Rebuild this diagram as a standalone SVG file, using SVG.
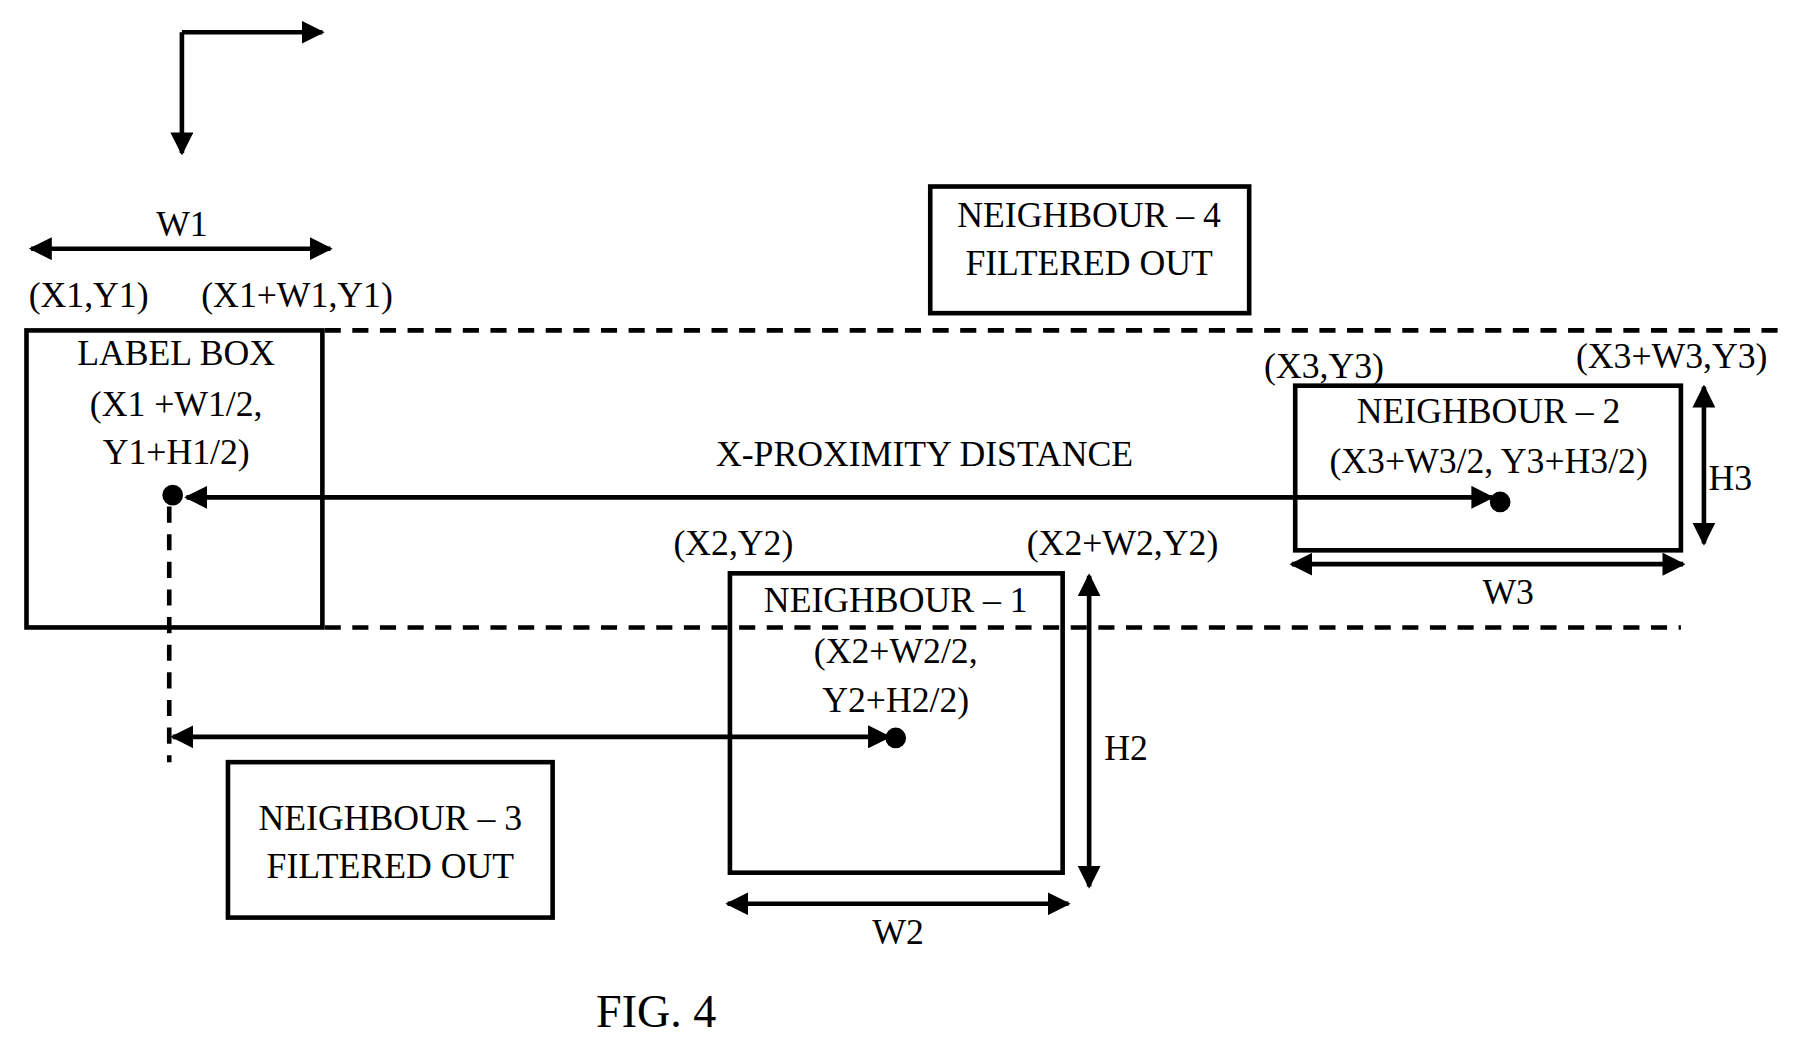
<svg xmlns="http://www.w3.org/2000/svg" width="1796" height="1046" viewBox="0 0 1796 1046">
<style>
text{font-family:"Liberation Serif","Times New Roman",serif;font-size:31px;fill:#000;text-anchor:middle}
.b{fill:none;stroke:#000;stroke-width:4}
.l{stroke:#000;stroke-width:4;fill:none}
.d{stroke:#000;stroke-width:4;stroke-dasharray:14,10;fill:none}
</style>
<defs>
<marker id="a" viewBox="0 0 10 10" refX="9" refY="5" markerWidth="5" markerHeight="5" orient="auto-start-reverse"><path d="M0,0 L10,5 L0,10 z" fill="#000"/></marker>
</defs>
<rect width="1796" height="1046" fill="#fff"/>
<g transform="scale(1.1513)">
<g id="connectors">
<path class="l" d="M158,28 V133" marker-end="url(#a)"/>
<path class="l" d="M158,28 H280" marker-end="url(#a)"/>
<path class="l" d="M27,216 H287" marker-start="url(#a)" marker-end="url(#a)"/>
<path class="d" d="M282,287 H1550"/>
<path class="d" d="M282,545 H1460"/>
<path class="d" d="M147,440 V662"/>
<path class="l" d="M162,432 H1296" marker-start="url(#a)" marker-end="url(#a)"/>
<path class="l" d="M150,640 H772" marker-start="url(#a)" marker-end="url(#a)"/>
<path class="l" d="M1480,336 V472" marker-start="url(#a)" marker-end="url(#a)"/>
<path class="l" d="M1122,490 H1462" marker-start="url(#a)" marker-end="url(#a)"/>
<path class="l" d="M946,500 V770" marker-start="url(#a)" marker-end="url(#a)"/>
<path class="l" d="M632,785 H928" marker-start="url(#a)" marker-end="url(#a)"/>
<circle cx="150" cy="430" r="9"/>
<circle cx="1303" cy="436" r="9"/>
<circle cx="778" cy="641" r="9"/>
</g>
<g id="label-box">
<rect class="b" x="23" y="287" width="257" height="258"/>
<text x="153" y="317">LABEL BOX</text>
<text x="153" y="361">(X1 +W1/2,</text>
<text x="153" y="403">Y1+H1/2)</text>
</g>
<g id="labels">
<text x="158" y="205">W1</text>
<text x="77" y="267">(X1,Y1)</text>
<text x="258" y="267">(X1+W1,Y1)</text>
<text x="803" y="405">X-PROXIMITY  DISTANCE</text>
<text x="1150" y="328">(X3,Y3)</text>
<text x="1452" y="320">(X3+W3,Y3)</text>
<text x="1503" y="426">H3</text>
<text x="1310" y="525">W3</text>
<text x="637" y="482">(X2,Y2)</text>
<text x="975" y="482">(X2+W2,Y2)</text>
<text x="978" y="660">H2</text>
<text x="780" y="820">W2</text>
<text x="570" y="892" style="font-size:40px">FIG. 4</text>
</g>
<g id="neighbour-4">
<rect class="b" x="808" y="162" width="277" height="110"/>
<text x="946" y="197">NEIGHBOUR – 4</text>
<text x="946" y="239">FILTERED OUT</text>
</g>
<g id="neighbour-2">
<rect class="b" x="1125" y="335" width="335" height="143"/>
<text x="1293" y="367">NEIGHBOUR – 2</text>
<text x="1293" y="411">(X3+W3/2, Y3+H3/2)</text>
</g>
<g id="neighbour-1">
<rect class="b" x="634" y="498" width="289" height="260"/>
<text x="778" y="532">NEIGHBOUR – 1</text>
<text x="778" y="576">(X2+W2/2,</text>
<text x="778" y="618">Y2+H2/2)</text>
</g>
<g id="neighbour-3">
<rect class="b" x="198" y="662" width="282" height="135"/>
<text x="339" y="721">NEIGHBOUR – 3</text>
<text x="339" y="763">FILTERED OUT</text>
</g>
</g>
</svg>
